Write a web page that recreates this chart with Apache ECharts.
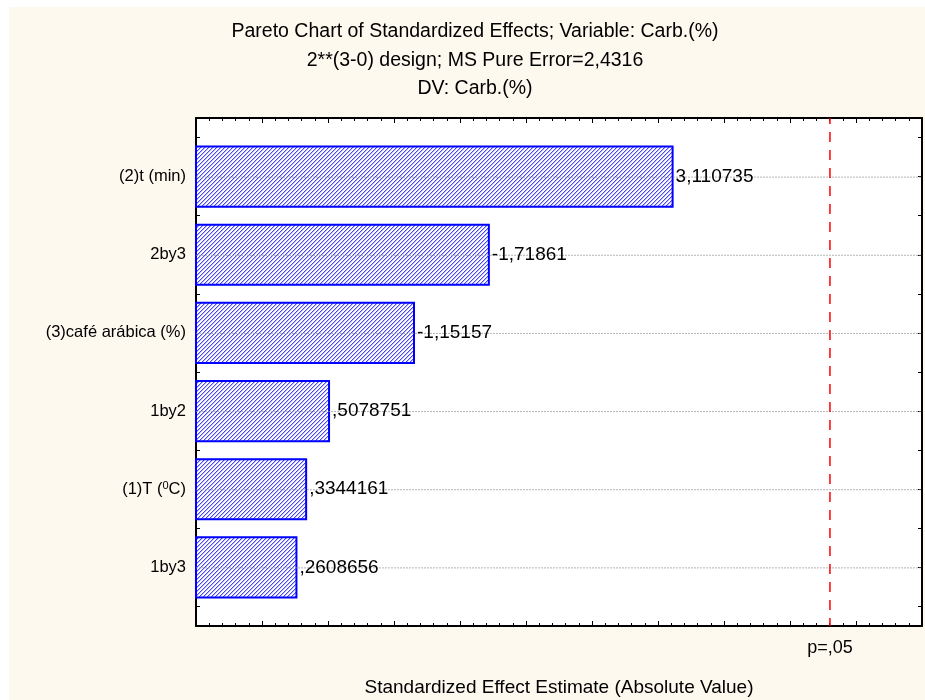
<!DOCTYPE html>
<html>
<head>
<meta charset="utf-8">
<script src="https://cdn.jsdelivr.net/npm/echarts@6/dist/echarts.min.js"></script>
<style>
  html, body { margin: 0; padding: 0; background: #ffffff; }
  #chart { width: 925px; height: 700px; }
</style>
</head>
<body>
<div id="chart"></div>
<script>
// Title lines of the Pareto chart
const titleLines = [
  'Pareto Chart of Standardized Effects; Variable: Carb.(%)',
  '2**(3-0) design; MS Pure Error=2,4316',
  'DV: Carb.(%)'
];
// Effects, ordered by absolute size (top to bottom)
const categories = ['(2)t (min)', '2by3', '(3)café arábica (%)', '1by2', '(1)T (⁰C)', '1by3'];
const effects = [3.110735, -1.71861, -1.15157, 0.5078751, 0.3344161, 0.2608656];
// Critical value of t for p = .05
const pCritical = 4.302653;
const pLabel = 'p=,05';
const xTitle = 'Standardized Effect Estimate (Absolute Value)';

// Axis ranges
const xMin = -0.5, xMax = 5, xStep = 0.5;
const yMin = -0.75, yMax = 5.75;

const FONT = '"Liberation Sans", Arial, sans-serif';
const BLUE = '#0000ff';

// Statistica-style number text: decimal comma, no leading zero
function fmt(v) {
  return String(v).replace('.', ',').replace(/^(-?)0,/, '$1,');
}

// Diagonal hatch tile for the bars
function hatchTile() {
  const c = document.createElement('canvas');
  c.width = 4; c.height = 4;
  const g = c.getContext('2d');
  g.fillStyle = '#ffffff';
  g.fillRect(0, 0, 4, 4);
  for (let y = 0; y < 4; y++) {
    const x = 3 - y;
    g.fillStyle = '#4646f6';
    g.fillRect(x, y, 1, 1);
    g.fillStyle = '#bcbcfc';
    g.fillRect((x + 1) % 4, y, 1, 1);
  }
  return c;
}
const hatch = { type: 'pattern', image: hatchTile(), repeat: 'repeat' };

const yTickValues = [];
for (let v = yMin + 0.25; v < yMax; v += 0.5) yTickValues.push(+v.toFixed(2));
const xTickValues = [];
for (let v = xMin; v <= xMax + 1e-9; v += xStep) xTickValues.push(+v.toFixed(2));
const catPositions = categories.map((_, i) => i);

const chart = echarts.init(document.getElementById('chart'));

const xAxisBase = {
  type: 'value', min: xMin, max: xMax, interval: xStep,
  axisLine: { show: true, onZero: false, lineStyle: { color: '#000', width: 2 } },
  axisTick: { show: true, inside: true, length: 5, customValues: xTickValues,
              lineStyle: { color: '#000', width: 1 } },
  minorTick: { show: true, splitNumber: 5, length: 3, lineStyle: { color: '#000', width: 1 } },
  splitLine: { show: false },
  minorSplitLine: { show: false }
};
const yAxisBase = {
  type: 'value', min: yMin, max: yMax, inverse: true,
  axisLine: { show: true, onZero: false, lineStyle: { color: '#000', width: 2 } },
  axisTick: { show: true, inside: true, length: 4, customValues: yTickValues,
              lineStyle: { color: '#000', width: 1 } },
  splitLine: { show: false }
};

chart.setOption({
  backgroundColor: '#fef9ee',
  animation: false,
  graphic: [
    { type: 'rect', left: 0, top: 0, shape: { width: 925, height: 7 }, style: { fill: '#ffffff' }, z: -10 },
    { type: 'rect', left: 0, top: 0, shape: { width: 9, height: 700 }, style: { fill: '#ffffff' }, z: -10 }
  ].concat(titleLines.map((t, i) => ({
    type: 'text', x: 475, y: 32 + i * 28.5, z: 10,
    style: { text: t, font: '19.5px ' + FONT, fill: '#000', textAlign: 'center', textVerticalAlign: 'middle' }
  }))),
  grid: {
    left: 196, right: 3, top: 118, bottom: 74,
    outerBoundsMode: 'none', containLabel: false,
    show: true, backgroundColor: '#ffffff', borderWidth: 0
  },
  xAxis: [
    Object.assign({}, xAxisBase, {
      position: 'bottom',
      axisLabel: { show: true, customValues: [pCritical], formatter: () => pLabel,
                   margin: 13, color: '#000', fontSize: 18, fontFamily: FONT },
      name: xTitle, nameLocation: 'middle', nameGap: 52,
      nameTextStyle: { color: '#000', fontSize: 19, fontFamily: FONT }
    }),
    Object.assign({}, xAxisBase, { position: 'top', axisLabel: { show: false } })
  ],
  yAxis: [
    Object.assign({}, yAxisBase, {
      position: 'left',
      axisLabel: {
        show: true, customValues: catPositions, margin: 10,
        color: '#000', fontSize: 16.5, fontFamily: FONT,
        formatter: v => categories[Math.round(v)].replace('⁰', '{s|0}'),
        rich: {
          s: { fontSize: 11, fontFamily: FONT, color: '#000', verticalAlign: 'top', lineHeight: 11 }
        }
      }
    }),
    Object.assign({}, yAxisBase, { position: 'right', axisLabel: { show: false } })
  ],
  series: [
    {
      type: 'custom',
      xAxisIndex: 0, yAxisIndex: 0,
      encode: { x: 0, y: 1 },
      data: effects.map((e, i) => [Math.abs(e), i, e]),
      clip: false,
      renderItem: (params, api) => {
        const len = api.value(0), idx = api.value(1), eff = api.value(2);
        const start = api.coord([xMin, idx]);
        const end = api.coord([len, idx]);
        const right = api.coord([xMax, idx]);
        const h = api.size([0, 0.77])[1];
        return {
          type: 'group',
          children: [
            {
              type: 'rect',
              shape: { x: start[0], y: end[1] - h / 2, width: end[0] - start[0], height: h },
              style: { fill: hatch, stroke: BLUE, lineWidth: 2 }
            },
            {
              type: 'line',
              shape: { x1: start[0], y1: end[1] + 0.5, x2: right[0], y2: end[1] + 0.5 },
              style: { stroke: 'rgba(150,150,150,0.7)', lineWidth: 1, lineDash: [2, 1] }
            },
            {
              type: 'text',
              x: end[0] + 3, y: end[1],
              style: { text: fmt(eff), font: '19px ' + FONT, fill: '#000', textVerticalAlign: 'middle' }
            }
          ]
        };
      }
    },
    {
      type: 'line',
      xAxisIndex: 0, yAxisIndex: 0,
      data: [[pCritical, yMin], [pCritical, yMax]],
      symbol: 'none', silent: true,
      lineStyle: { color: '#ff0000', width: 1.5, type: [10, 8], dashOffset: -14 },
      z: 5
    }
  ]
});
</script>
</body>
</html>
